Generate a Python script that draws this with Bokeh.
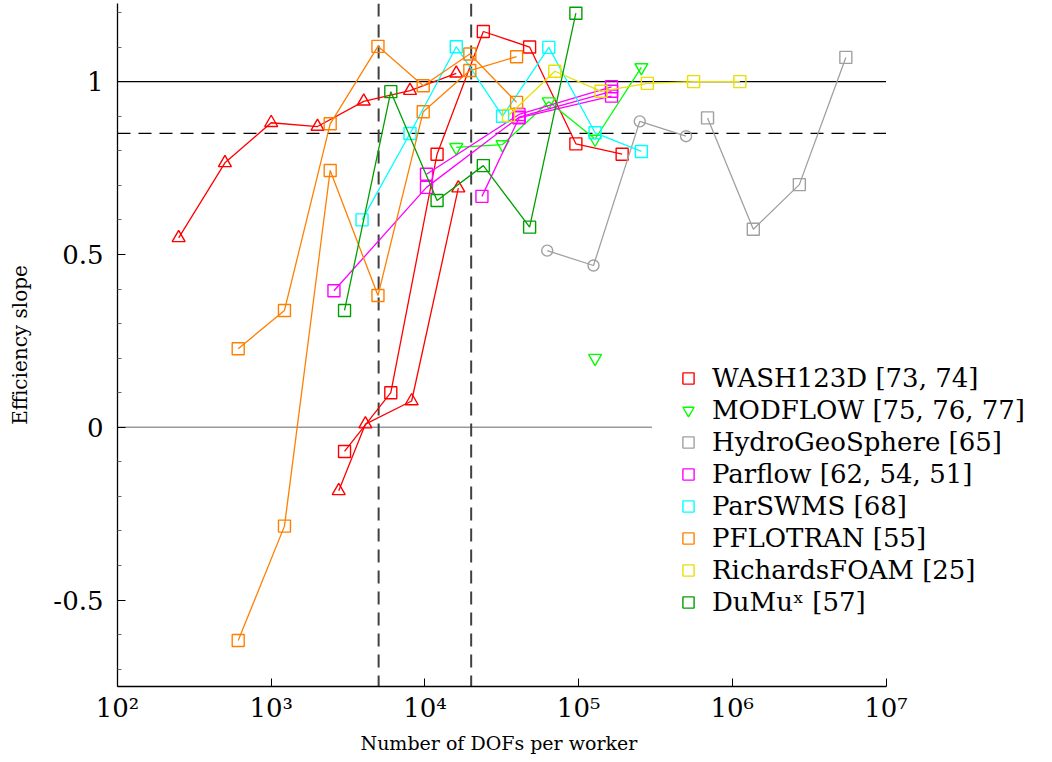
from bokeh.plotting import figure
from bokeh.models import (Span, Legend, LegendItem, FixedTicker, Range1d,
                          ColumnDataSource, Title)
from bokeh.embed import file_html
from bokeh.resources import INLINE

# ---------------- data ----------------
# WASH123D
wash_sq_x = [3000, 6000, 12000, 24000, 48000, 96000, 192000]
wash_sq_y = [-0.07, 0.10, 0.79, 1.145, 1.10, 0.82, 0.79]
wash_tri1_x = [250, 500, 1000, 2000, 4000, 8000, 16000]
wash_tri1_y = [0.548, 0.765, 0.881, 0.870, 0.943, 0.974, 1.024]
wash_tri2_x = [2750, 4100, 8200, 16500]
wash_tri2_y = [-0.184, 0.009, 0.076, 0.692]

# MODFLOW
modflow_x = [16000, 32000, 64000, 128000, 256000]
modflow_y = [0.81, 0.818, 0.942, 0.834, 1.041]
modflow_single_x = [128000]
modflow_single_y = [0.20]

# HydroGeoSphere
hgs_circ_x = [62500, 125000, 250000, 500000]
hgs_circ_y = [0.511, 0.468, 0.885, 0.842]
hgs_sq_x = [690000, 1370000, 2730000, 5480000]
hgs_sq_y = [0.895, 0.573, 0.702, 1.070]

# Parflow
parflow1_x = [2560, 10240, 40960, 163840]
parflow1_y = [0.395, 0.694, 0.897, 0.972]
parflow2_x = [10240, 40960, 163840]
parflow2_y = [0.732, 0.905, 0.985]
parflow3_x = [23500, 40960, 163840]
parflow3_y = [0.668, 0.895, 0.958]

# ParSWMS
parswms_x = [3900, 8000, 16000, 32000, 64000, 128000, 256000]
parswms_y = [0.600, 0.850, 1.101, 0.900, 1.099, 0.852, 0.798]

# PFLOTRAN
pflotran_x = [610, 1220, 2420, 4950, 9750, 19600, 39500]
pflotran1_y = [-0.617, -0.286, 0.743, 0.381, 0.913, 1.032, 1.072]
pflotran2_y = [0.227, 0.338, 0.878, 1.102, 0.988, 1.080, 0.940]

# RichardsFOAM
rfoam_x = [35000, 70000, 140000, 280000, 560000, 1120000]
rfoam_y = [0.902, 1.030, 0.972, 0.995, 1.0, 1.0]

# DuMux
dumux_x = [3000, 6000, 12000, 24000, 48000, 96000]
dumux_y = [0.338, 0.971, 0.656, 0.757, 0.579, 1.198]

# reference lines
x_span = [1e2, 1e7]
ref_h_solid = 1.0
ref_h_dashed = 0.85
ref_v_dashed = [5000, 20000]
zero_line_x = [1e2, 3e5]

x_tick_values = [100, 1000, 10000, 100000, 1000000, 10000000]
x_tick_labels = ["10²", "10³", "10⁴", "10⁵", "10⁶", "10⁷"]
y_tick_values = [-0.5, 0, 0.5, 1]
y_tick_labels = ["-0.5", "0", "0.5", "1"]
y_minor_values = [-0.7, -0.6, -0.4, -0.3, -0.2, -0.1, 0.1, 0.2, 0.3, 0.4,
                  0.6, 0.7, 0.8, 0.9, 1.1, 1.2]

labels = ["WASH123D [73, 74]", "MODFLOW [75, 76, 77]", "HydroGeoSphere [65]",
          "Parflow [62, 54, 51]", "ParSWMS [68]", "PFLOTRAN [55]",
          "RichardsFOAM [25]", "DuMuˣ [57]"]

RED = "#ff0000"
LIME = "#00ff00"
GRAY = "#a0a0a0"
MAGENTA = "#ff00ff"
CYAN = "#00ffff"
ORANGE = "#ff8000"
YELLOW = "#e8e000"
GREEN = "#00a000"

SERIF = "DejaVu Serif"

# ---------------- figure ----------------
# the frame runs to the right edge so the legend has room; the x axis
# itself is bounded to 10^2..10^7
DECADE_PX = 153.7
FRAME_W = 935
X_END = 10 ** (2 + FRAME_W / DECADE_PX)
p = figure(x_axis_type="log", x_range=Range1d(1e2, X_END),
           y_range=Range1d(-0.75, 1.226),
           frame_width=FRAME_W, frame_height=683,
           min_border_left=117, min_border_right=0,
           min_border_top=3, min_border_bottom=76,
           output_backend="svg", toolbar_location=None)
p.outline_line_color = None
p.xgrid.visible = False
p.ygrid.visible = False
p.background_fill_color = "white"

# reference lines
p.line(x_span, [ref_h_solid] * 2, line_color="black", line_width=1.3,
       level="underlay")
p.line(x_span, [ref_h_dashed] * 2, line_color="black", line_width=1.3,
       line_dash="13 8", level="underlay")
for xv in ref_v_dashed:
    p.add_layout(Span(location=xv, dimension="height", line_color="#404040",
                      line_width=2, line_dash="13 8", level="underlay"))
p.line(zero_line_x, [0, 0], line_color="#999999", line_width=1.3,
       level="underlay")

LW = 1.3


def series(xs, ys, color, marker, size=12):
    src = ColumnDataSource(dict(x=xs, y=ys))
    p.line("x", "y", source=src, line_color=color, line_width=LW)
    return p.scatter("x", "y", source=src, marker=marker, size=size,
                     line_color=color, fill_color=None, line_width=1.4)


def bar(color):
    # legend-only bar drawn across the legend marker
    return p.scatter(x=[], y=[], marker="dash", line_color=color, line_width=1.4)


r_wash = series(wash_sq_x, wash_sq_y, RED, "square")
series(wash_tri1_x, wash_tri1_y, RED, "triangle", 13)
series(wash_tri2_x, wash_tri2_y, RED, "triangle", 13)

r_mod = series(modflow_x, modflow_y, LIME, "inverted_triangle", 13)
series(modflow_single_x, modflow_single_y, LIME, "inverted_triangle", 13)

series(hgs_circ_x, hgs_circ_y, GRAY, "circle", 11)
r_hgs = series(hgs_sq_x, hgs_sq_y, GRAY, "square")

r_pf = series(parflow1_x, parflow1_y, MAGENTA, "square")
series(parflow2_x, parflow2_y, MAGENTA, "square")
series(parflow3_x, parflow3_y, MAGENTA, "square")

r_sw = series(parswms_x, parswms_y, CYAN, "square")

r_pfl = series(pflotran_x, pflotran1_y, ORANGE, "square")
series(pflotran_x, pflotran2_y, ORANGE, "square")

r_rf = series(rfoam_x, rfoam_y, YELLOW, "square")

r_du = series(dumux_x, dumux_y, GREEN, "square")

items = [
    LegendItem(label=labels[0], renderers=[r_wash, bar(RED)]),
    LegendItem(label=labels[1], renderers=[r_mod]),
    LegendItem(label=labels[2], renderers=[r_hgs, bar(GRAY)]),
    LegendItem(label=labels[3], renderers=[r_pf, bar(MAGENTA)]),
    LegendItem(label=labels[4], renderers=[r_sw, bar(CYAN)]),
    LegendItem(label=labels[5], renderers=[r_pfl, bar(ORANGE)]),
    LegendItem(label=labels[6], renderers=[r_rf, bar(YELLOW)]),
    LegendItem(label=labels[7], renderers=[r_du, bar(GREEN)]),
]
legend = Legend(items=items, location=(557, 68), padding=0, margin=0,
                spacing=0, glyph_width=28, glyph_height=28, label_height=32,
                label_standoff=10, border_line_color=None,
                background_fill_alpha=0, label_text_font=SERIF,
                label_text_font_size="26px", label_text_color="black")
p.add_layout(legend, "center")

# ---------------- axes ----------------
xa = p.xaxis[0]
xa.bounds = (1e2, 1e7)
xa.ticker = FixedTicker(ticks=x_tick_values, minor_ticks=[])
xa.major_label_overrides = dict(zip(x_tick_values, x_tick_labels))
xa.major_label_text_font = SERIF
xa.major_label_text_font_size = "26px"
xa.major_label_standoff = 6

# x axis title, centred under the bounded axis rather than the whole frame
p.add_layout(Title(text="Number of DOFs per worker", align="left",
                   offset=243, text_font=SERIF, text_font_size="19px",
                   text_font_style="normal", text_color="black",
                   standoff=8), "below")

ya = p.yaxis[0]
ya.ticker = FixedTicker(ticks=y_tick_values, minor_ticks=y_minor_values)
ya.major_label_overrides = dict(zip(y_tick_values, y_tick_labels))
ya.axis_label = "Efficiency slope"
ya.axis_label_text_font = SERIF
ya.axis_label_text_font_size = "20px"
ya.axis_label_text_font_style = "normal"
ya.axis_label_standoff = 18
ya.major_label_text_font = SERIF
ya.major_label_text_font_size = "26px"
ya.major_label_standoff = 14

for ax in (xa, ya):
    ax.axis_line_color = "black"
    ax.axis_line_width = 1.3
    ax.major_tick_in = 8
    ax.major_tick_out = 0
    ax.minor_tick_in = 4
    ax.minor_tick_out = 0
    ax.major_tick_line_color = "black"
    ax.minor_tick_line_color = "#666666"
    ax.major_label_text_color = "black"
    ax.axis_label_text_color = "black"

open("out.html", "w").write(file_html(p, INLINE))
